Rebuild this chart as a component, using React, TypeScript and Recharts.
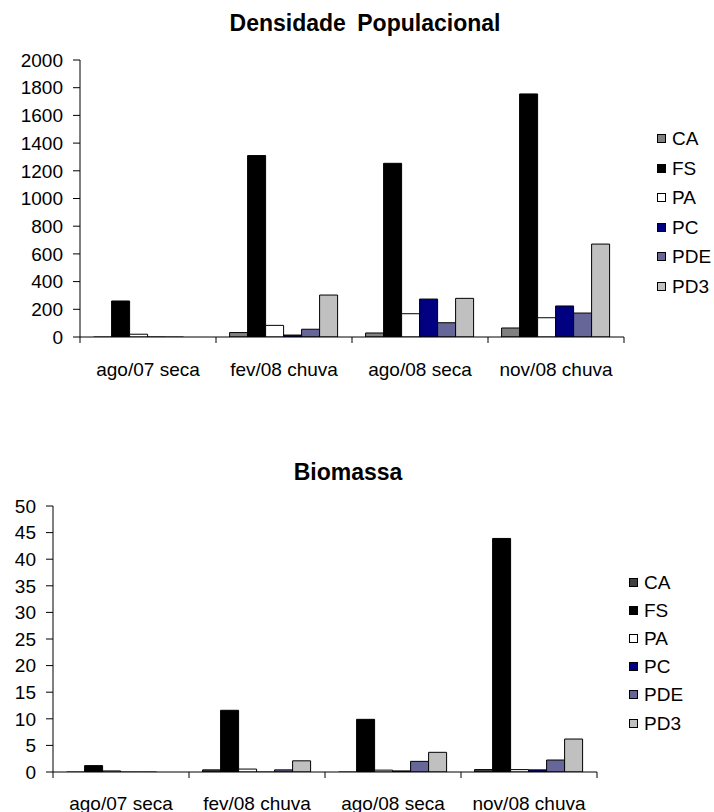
import { BarChart, Bar, XAxis, YAxis, Legend } from "recharts";

const categories = ["ago/07 seca", "fev/08 chuva", "ago/08 seca", "nov/08 chuva"];
const seriesNames = ["CA", "FS", "PA", "PC", "PDE", "PD3"];

// Densidade Populacional
const densCA = [-3, 32, 29, 65];
const densFS = [260, 1310, 1254, 1755];
const densPA = [20, 84, 168, 139];
const densPC = [-2, 14, 274, 224];
const densPDE = [-12, 56, 103, 173];
const densPD3 = [0, 303, 279, 671];
const densTicks = [0, 200, 400, 600, 800, 1000, 1200, 1400, 1600, 1800, 2000];

// Biomassa
const bioCA = [-0.2, 0.4, -0.2, 0.45];
const bioFS = [1.2, 11.6, 9.9, 43.9];
const bioPA = [0.2, 0.55, 0.35, 0.45];
const bioPC = [-0.2, -0.2, 0.2, 0.4];
const bioPDE = [-0.2, 0.4, 2.0, 2.25];
const bioPD3 = [0, 2.1, 3.7, 6.2];
const bioTicks = [0, 5, 10, 15, 20, 25, 30, 35, 40, 45, 50];

const buildRows = (cols: number[][]) =>
  categories.map((cat, i) => {
    const row: Record<string, string | number> = { cat };
    seriesNames.forEach((s, k) => {
      row[s] = cols[k][i];
    });
    return row;
  });

const densData = buildRows([densCA, densFS, densPA, densPC, densPDE, densPD3]);
const bioData = buildRows([bioCA, bioFS, bioPA, bioPC, bioPDE, bioPD3]);

const FONT = "'Liberation Sans', Arial, sans-serif";
const FS_TXT = 19;

const topColors: Record<string, string> = {
  CA: "#808080",
  FS: "#000000",
  PA: "#FFFFFF",
  PC: "#000080",
  PDE: "#666699",
  PD3: "#C0C0C0",
};
const bottomColors: Record<string, string> = { ...topColors, CA: "#404040" };

const makeXTick = (band: number, labelDy: number) => (props: any) => {
  const { x, y, payload, index } = props;
  const last = index === categories.length - 1;
  return (
    <g>
      <line x1={x - band / 2} y1={y} x2={x - band / 2} y2={y + 6} stroke="#000" />
      {last && <line x1={x + band / 2} y1={y} x2={x + band / 2} y2={y + 6} stroke="#000" />}
      <text
        x={x}
        y={y + labelDy}
        textAnchor="middle"
        dominantBaseline="central"
        fontSize={FS_TXT}
        fontFamily={FONT}
        fill="#000"
      >
        {payload.value}
      </text>
    </g>
  );
};

const makeLegend = (colors: Record<string, string>, rowH: number) => () => (
  <div style={{ fontFamily: FONT, fontSize: FS_TXT, color: "#000", lineHeight: 1 }}>
    {seriesNames.map((s) => (
      <div key={s} style={{ display: "flex", alignItems: "center", height: rowH }}>
        <span
          style={{
            width: 7,
            height: 7,
            background: colors[s],
            border: "1px solid #000",
            marginRight: 6,
            flex: "none",
          }}
        />
        {s}
      </div>
    ))}
  </div>
);

type PanelProps = {
  title: string;
  data: Record<string, string | number>[];
  ticks: number[];
  max: number;
  colors: Record<string, string>;
  top: number;
  height: number;
  plotLeft: number;
  plotRight: number;
  plotTop: number;
  plotBottom: number;
  titleX: number;
  titleY: number;
  labelDy: number;
  legendLeft: number;
  legendTop: number;
  legendRow: number;
};

function Panel(p: PanelProps) {
  const band = (p.plotRight - p.plotLeft) / categories.length;
  return (
    <div style={{ position: "absolute", left: 0, top: p.top, width: 714, height: p.height }}>
      <div
        style={{
          position: "absolute",
          left: p.titleX - 200,
          width: 400,
          top: p.titleY - 13,
          textAlign: "center",
          fontFamily: FONT,
          fontWeight: "bold",
          fontSize: 23,
          lineHeight: "26px",
          wordSpacing: 5,
        }}
      >
        {p.title}
      </div>
      <BarChart
        width={714}
        height={p.height}
        data={p.data}
        margin={{ top: p.plotTop, right: 714 - p.plotRight, left: 0, bottom: 0 }}
        barCategoryGap="10%"
        barGap={0}
      >
        <XAxis
          dataKey="cat"
          height={p.height - p.plotBottom}
          axisLine={{ stroke: "#000" }}
          tickLine={false}
          tickSize={0}
          tickMargin={0}
          interval={0}
          tick={makeXTick(band, p.labelDy)}
        />
        <YAxis
          width={p.plotLeft}
          domain={[0, p.max]}
          allowDataOverflow
          ticks={p.ticks}
          interval={0}
          axisLine={{ stroke: "#000" }}
          tickLine={{ stroke: "#000" }}
          tickSize={7}
          tickMargin={10}
          tick={{ fill: "#000", fontSize: FS_TXT, fontFamily: FONT }}
        />
        <Legend
          layout="horizontal"
          align="center"
          verticalAlign="middle"
          content={makeLegend(p.colors, p.legendRow)}
          wrapperStyle={{ left: p.legendLeft, top: p.legendTop, width: 60, height: "auto" }}
        />
        {seriesNames.map((s) => (
          <Bar
            key={s}
            dataKey={s}
            fill={p.colors[s]}
            stroke="#000"
            strokeWidth={1}
            isAnimationActive={false}
          />
        ))}
      </BarChart>
    </div>
  );
}

export default function App() {
  return (
    <div style={{ position: "absolute", left: 0, top: 0, width: 714, height: 812, background: "#fff", overflow: "hidden" }}>
      <Panel
        title="Densidade Populacional"
        data={densData}
        ticks={densTicks}
        max={2000}
        colors={topColors}
        top={0}
        height={400}
        plotLeft={80}
        plotRight={624}
        plotTop={60}
        plotBottom={337}
        titleX={365}
        titleY={23}
        labelDy={32}
        legendLeft={657}
        legendTop={124}
        legendRow={29.5}
      />
      <Panel
        title="Biomassa"
        data={bioData}
        ticks={bioTicks}
        max={50}
        colors={bottomColors}
        top={440}
        height={372}
        plotLeft={53}
        plotRight={597}
        plotTop={66}
        plotBottom={332}
        titleX={348}
        titleY={32}
        labelDy={31}
        legendLeft={629}
        legendTop={128}
        legendRow={28.2}
      />
    </div>
  );
}
